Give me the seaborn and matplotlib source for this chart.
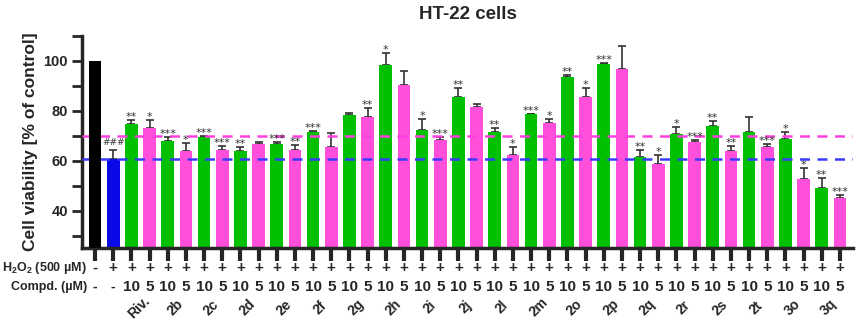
import numpy as np
import pandas as pd
import matplotlib
matplotlib.use('Agg')
import matplotlib.pyplot as plt
import seaborn as sns

# compound names (each tested at 10 and 5 uM)
compounds = ['Riv.', '2b', '2c', '2d', '2e', '2f', '2g', '2h', '2i', '2j',
             '2l', '2m', '2o', '2p', '2q', '2r', '2s', '2t', '3o', '3q']

control_value = 100.0
h2o2_value = 60.7
h2o2_err = 3.7

means_10 = [74.7, 68.0, 69.5, 64.0, 66.8, 71.5, 78.4, 98.3, 72.3, 85.5,
            71.6, 78.7, 93.6, 98.8, 61.6, 70.8, 74.0, 71.5, 68.7, 49.1]
means_5 = [73.1, 63.7, 64.1, 66.8, 64.4, 65.6, 77.5, 90.4, 68.3, 81.6,
           62.1, 75.3, 85.5, 96.9, 58.6, 67.3, 63.7, 65.5, 52.8, 45.1]
err_10 = [1.7, 1.7, 0.3, 1.3, 0.7, 0.5, 0.9, 5.0, 4.5, 3.6,
          1.5, 0.2, 0.7, 0.2, 2.5, 2.7, 1.8, 6.1, 2.8, 3.8]
err_5 = [3.3, 3.4, 1.9, 0.5, 1.9, 5.5, 3.6, 5.5, 1.2, 1.2,
         3.5, 1.5, 3.7, 9.1, 3.8, 1.2, 2.2, 1.2, 4.3, 1.2]
sig_10 = ['**', '***', '***', '**', '***', '***', '', '*', '*', '**',
          '**', '***', '**', '***', '**', '*', '**', '', '*', '**']
sig_5 = ['*', '*', '***', '', '**', '', '**', '', '***', '',
         '*', '*', '*', '', '*', '***', '**', '***', '*', '***']

doses = ['10', '5']
line_pink = 70.0
line_blue = 60.6

# build one row per bar
bars, vals, errs, groups, sigs = ['Control', 'H2O2'], [control_value, h2o2_value], [0, h2o2_err], ['ctrl', 'h2o2'], ['', '###']
for i, c in enumerate(compounds):
    bars += [c + ' 10', c + ' 5']
    vals += [means_10[i], means_5[i]]
    errs += [err_10[i], err_5[i]]
    groups += ['10', '5']
    sigs += [sig_10[i], sig_5[i]]
df = pd.DataFrame({'bar': bars, 'value': vals, 'err': errs, 'group': groups, 'sig': sigs})

palette = {'ctrl': '#000000', 'h2o2': '#0a0ae6', '10': '#00c000', '5': '#ff4fdb'}

sns.set_style('ticks')
plt.rcParams['font.family'] = ['Liberation Sans', 'DejaVu Sans']
plt.rcParams['mathtext.fontset'] = 'custom'
plt.rcParams['mathtext.rm'] = 'Liberation Sans:bold'
plt.rcParams['mathtext.it'] = 'Liberation Sans:bold'
plt.rcParams['mathtext.bf'] = 'Liberation Sans:bold'

fig = plt.figure(figsize=(8.58, 3.30), dpi=100)
ax = fig.add_axes([82 / 858, 1 - 248 / 330, (853 - 82) / 858, (248 - 36) / 330])

sns.barplot(data=df, x='bar', y='value', hue='group', palette=palette, dodge=False,
            saturation=1, width=0.7, linewidth=0, legend=False, ax=ax, zorder=2)

x = np.arange(len(df))
ax.errorbar(x[1:], df['value'][1:], yerr=[np.zeros(len(df) - 1), df['err'][1:]],
            fmt='none', ecolor='#333333', elinewidth=1.2, capsize=3, capthick=1.2, zorder=1.5)

# reference lines
ax.axhline(line_pink, color='#ff40e0', lw=1.8, ls=(0, (4, 3)), zorder=3)
ax.axhline(line_blue, color='#3a3aff', lw=1.8, ls=(0, (4, 3)), zorder=3)
for p in ax.patches:
    if abs(p.get_x() + p.get_width() / 2) < 0.1:
        p.set_zorder(4)

# significance marks
for xi, (v, e, s) in enumerate(zip(df['value'], df['err'], df['sig'])):
    if not s:
        continue
    if s[0] == '*':
        ax.text(xi, v + e - 0.8, s, ha='center', va='bottom', family='DejaVu Sans',
                fontsize=8, color='#333333')
    else:
        ax.text(xi, v + e + 1.2, s, ha='center', va='bottom', family='DejaVu Sans',
                fontsize=6.5, color='#333333')

ax.set_xlim(-0.72, len(df) - 0.28)
ax.set_ylim(25, 110)
ax.set_yticks([40, 60, 80, 100])
ax.set_yticks([30, 50, 70, 90, 110], minor=True)
ax.set_xticks(x)
ax.set_xticklabels([])
ax.set_xlabel('')
ax.set_ylabel('Cell viability [% of control]', fontsize=12.5, fontweight='bold', labelpad=4)
for lab in ax.get_yticklabels():
    lab.set_fontweight('bold')
    lab.set_fontsize(10.5)
ax.tick_params(axis='y', which='major', length=7, width=2, pad=3)
ax.tick_params(axis='y', which='minor', length=7, width=2)
ax.tick_params(axis='x', length=9, width=3)
for side in ['left', 'bottom']:
    ax.spines[side].set_linewidth(2.5)
sns.despine(ax=ax)

ax.set_title('HT-22 cells', fontsize=13.5, fontweight='bold', pad=12)

# treatment table under the axis
tr = ax.get_xaxis_transform()
ax.text(-0.45, -0.094, r'H$_2$O$_2$ (500 µM)', transform=tr, ha='right', va='center',
        fontsize=9, fontweight='bold')
ax.text(-0.45, -0.184, 'Compd. (µM)', transform=tr, ha='right', va='center',
        fontsize=9, fontweight='bold')
for xi, g in enumerate(df['group']):
    ax.text(xi, -0.094, '-' if g == 'ctrl' else '+', transform=tr, ha='center', va='center',
            fontsize=11, fontweight='bold')
    dose = '-' if g in ('ctrl', 'h2o2') else g
    ax.text(xi, -0.184, dose, transform=tr, ha='center', va='center',
            fontsize=11 if dose != '-' else 10, fontweight='bold')
for i, c in enumerate(compounds):
    ax.text(2 + 2 * i + 0.4, -0.28, c, transform=tr, ha='center', va='center',
            rotation=45, fontsize=10, fontweight='bold')

fig.savefig('out.png', dpi=100)
